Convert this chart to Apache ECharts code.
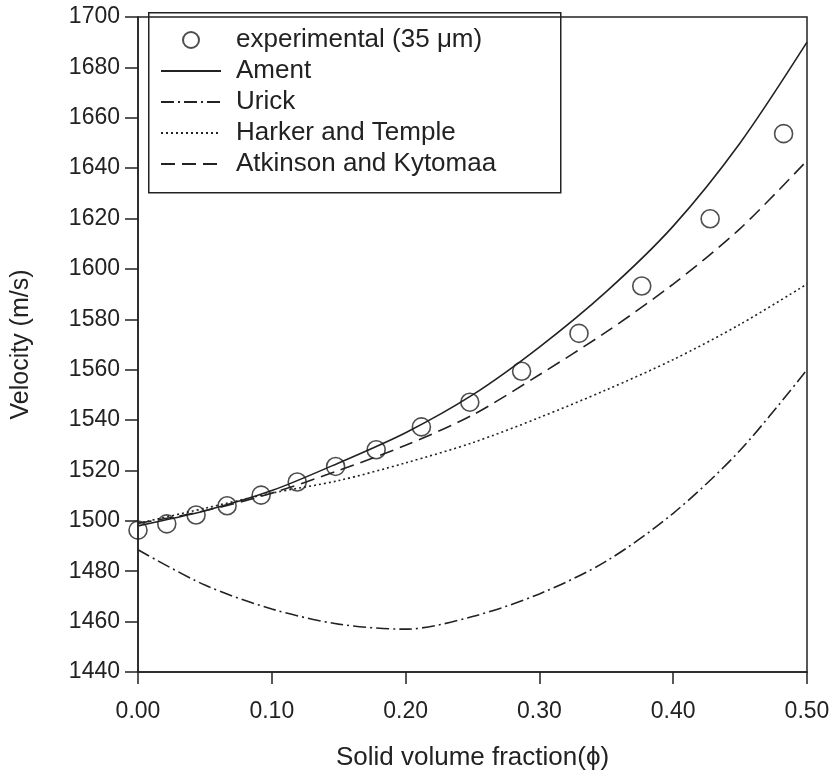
<!DOCTYPE html>
<html>
<head>
<meta charset="utf-8">
<script src="https://cdn.jsdelivr.net/npm/echarts@6/dist/echarts.min.js"></script>
<style>
html,body{margin:0;padding:0;background:#fff;}
#chart{width:834px;height:776px;}
</style>
</head>
<body>
<div id="chart"></div>
<script>
// Experimental data (35 µm)
var expPhi = [0.000, 0.0215, 0.0434, 0.0666, 0.092, 0.119, 0.1477, 0.178, 0.2118, 0.248, 0.2867, 0.3296, 0.3765, 0.4276, 0.4825];
var expVel = [1496.3, 1498.8, 1502.3, 1506.0, 1510.2, 1515.4, 1521.6, 1528.2, 1537.3, 1547.1, 1559.4, 1574.4, 1593.2, 1619.9, 1653.7];

// Model curves sampled along phi
var modelPhi = [0, 0.05, 0.10, 0.15, 0.20, 0.25, 0.30, 0.35, 0.40, 0.45, 0.50];
var amentVel    = [1498, 1504, 1512, 1523, 1535, 1550, 1569, 1591, 1617, 1650, 1690];
var urickVel    = [1488.5, 1474.5, 1465, 1459, 1457, 1462, 1471, 1484, 1503, 1528, 1560];
var harkerVel   = [1499, 1505, 1511, 1516, 1523, 1531, 1541, 1552, 1564, 1578, 1594];
var atkinsonVel = [1499, 1504, 1511, 1520, 1530, 1542, 1558, 1575, 1594, 1616, 1643];

var seriesNames = ['experimental (35 \u03bcm)', 'Ament', 'Urick', 'Harker and Temple', 'Atkinson and Kytomaa'];

function pairs(xs, ys) { return xs.map(function (x, i) { return [x, ys[i]]; }); }

var FONT = '"Liberation Sans", Arial, Helvetica, sans-serif';
var INK = '#222';

var chart = echarts.init(document.getElementById('chart'), null, { renderer: 'canvas' });

function lineSeries(name, ys, type, width) {
  return {
    name: name,
    type: 'line',
    data: pairs(modelPhi, ys),
    smooth: 0.3,
    symbol: 'none',
    showSymbol: false,
    lineStyle: { color: INK, width: width, type: type },
    itemStyle: { color: INK },
    z: 2
  };
}

var legendData = seriesNames.map(function (n, i) {
  if (i === 0) return { name: n };
  return { name: n, itemStyle: { opacity: 0 } };
});

var option = {
  backgroundColor: '#fff',
  animation: false,
  grid: {
    left: 138, right: 27, top: 17, bottom: 104,
    show: true, borderColor: INK, borderWidth: 1.5, backgroundColor: 'transparent'
  },
  graphic: [{
    type: 'rect', left: 148, top: 12, z: 10,
    shape: { width: 412, height: 180 },
    style: { fill: 'transparent', stroke: INK, lineWidth: 1.5 }
  }],
  legend: {
    left: 148, top: 12,
    orient: 'vertical',
    data: legendData,
    itemWidth: 60, itemHeight: 16, itemGap: 5,
    padding: [15, 10, 15, 12],
    textStyle: { fontFamily: FONT, fontSize: 26, color: INK, lineHeight: 26, padding: [0, 0, 0, 10] }
  },
  xAxis: {
    type: 'value', min: 0, max: 0.5, interval: 0.1,
    name: 'Solid volume fraction(\u03d5)', nameLocation: 'middle', nameGap: 73,
    nameTextStyle: { fontFamily: FONT, fontSize: 26, color: INK },
    axisLine: { show: true, lineStyle: { color: INK, width: 1.5 } },
    axisTick: { show: true, inside: false, length: 12, lineStyle: { color: INK, width: 1.5 } },
    axisLabel: { fontFamily: FONT, fontSize: 23, color: INK, margin: 28, formatter: function (v) { return v.toFixed(2); } },
    splitLine: { show: false }
  },
  yAxis: {
    type: 'value', min: 1440, max: 1700, interval: 20,
    name: 'Velocity (m/s)', nameLocation: 'middle', nameGap: 104,
    nameTextStyle: { fontFamily: FONT, fontSize: 25, color: INK },
    axisLine: { show: true, lineStyle: { color: INK, width: 1.5 } },
    axisTick: { show: true, inside: false, length: 13, lineStyle: { color: INK, width: 1.5 } },
    axisLabel: { fontFamily: FONT, fontSize: 23, color: INK, margin: 18, formatter: function (v) { return String(v); } },
    splitLine: { show: false }
  },
  series: [
    {
      name: seriesNames[0],
      type: 'scatter',
      data: pairs(expPhi, expVel),
      symbol: 'circle',
      symbolSize: 18,
      itemStyle: { color: 'rgba(255,255,255,0)', borderColor: INK, borderWidth: 1.6 },
      z: 5
    },
    lineSeries(seriesNames[1], amentVel, 'solid', 1.6),
    lineSeries(seriesNames[2], urickVel, [13, 4, 2, 4], 1.6),
    lineSeries(seriesNames[3], harkerVel, [2, 3], 1.6),
    lineSeries(seriesNames[4], atkinsonVel, [14, 7], 1.6)
  ]
};

chart.setOption(option);
</script>
</body>
</html>
